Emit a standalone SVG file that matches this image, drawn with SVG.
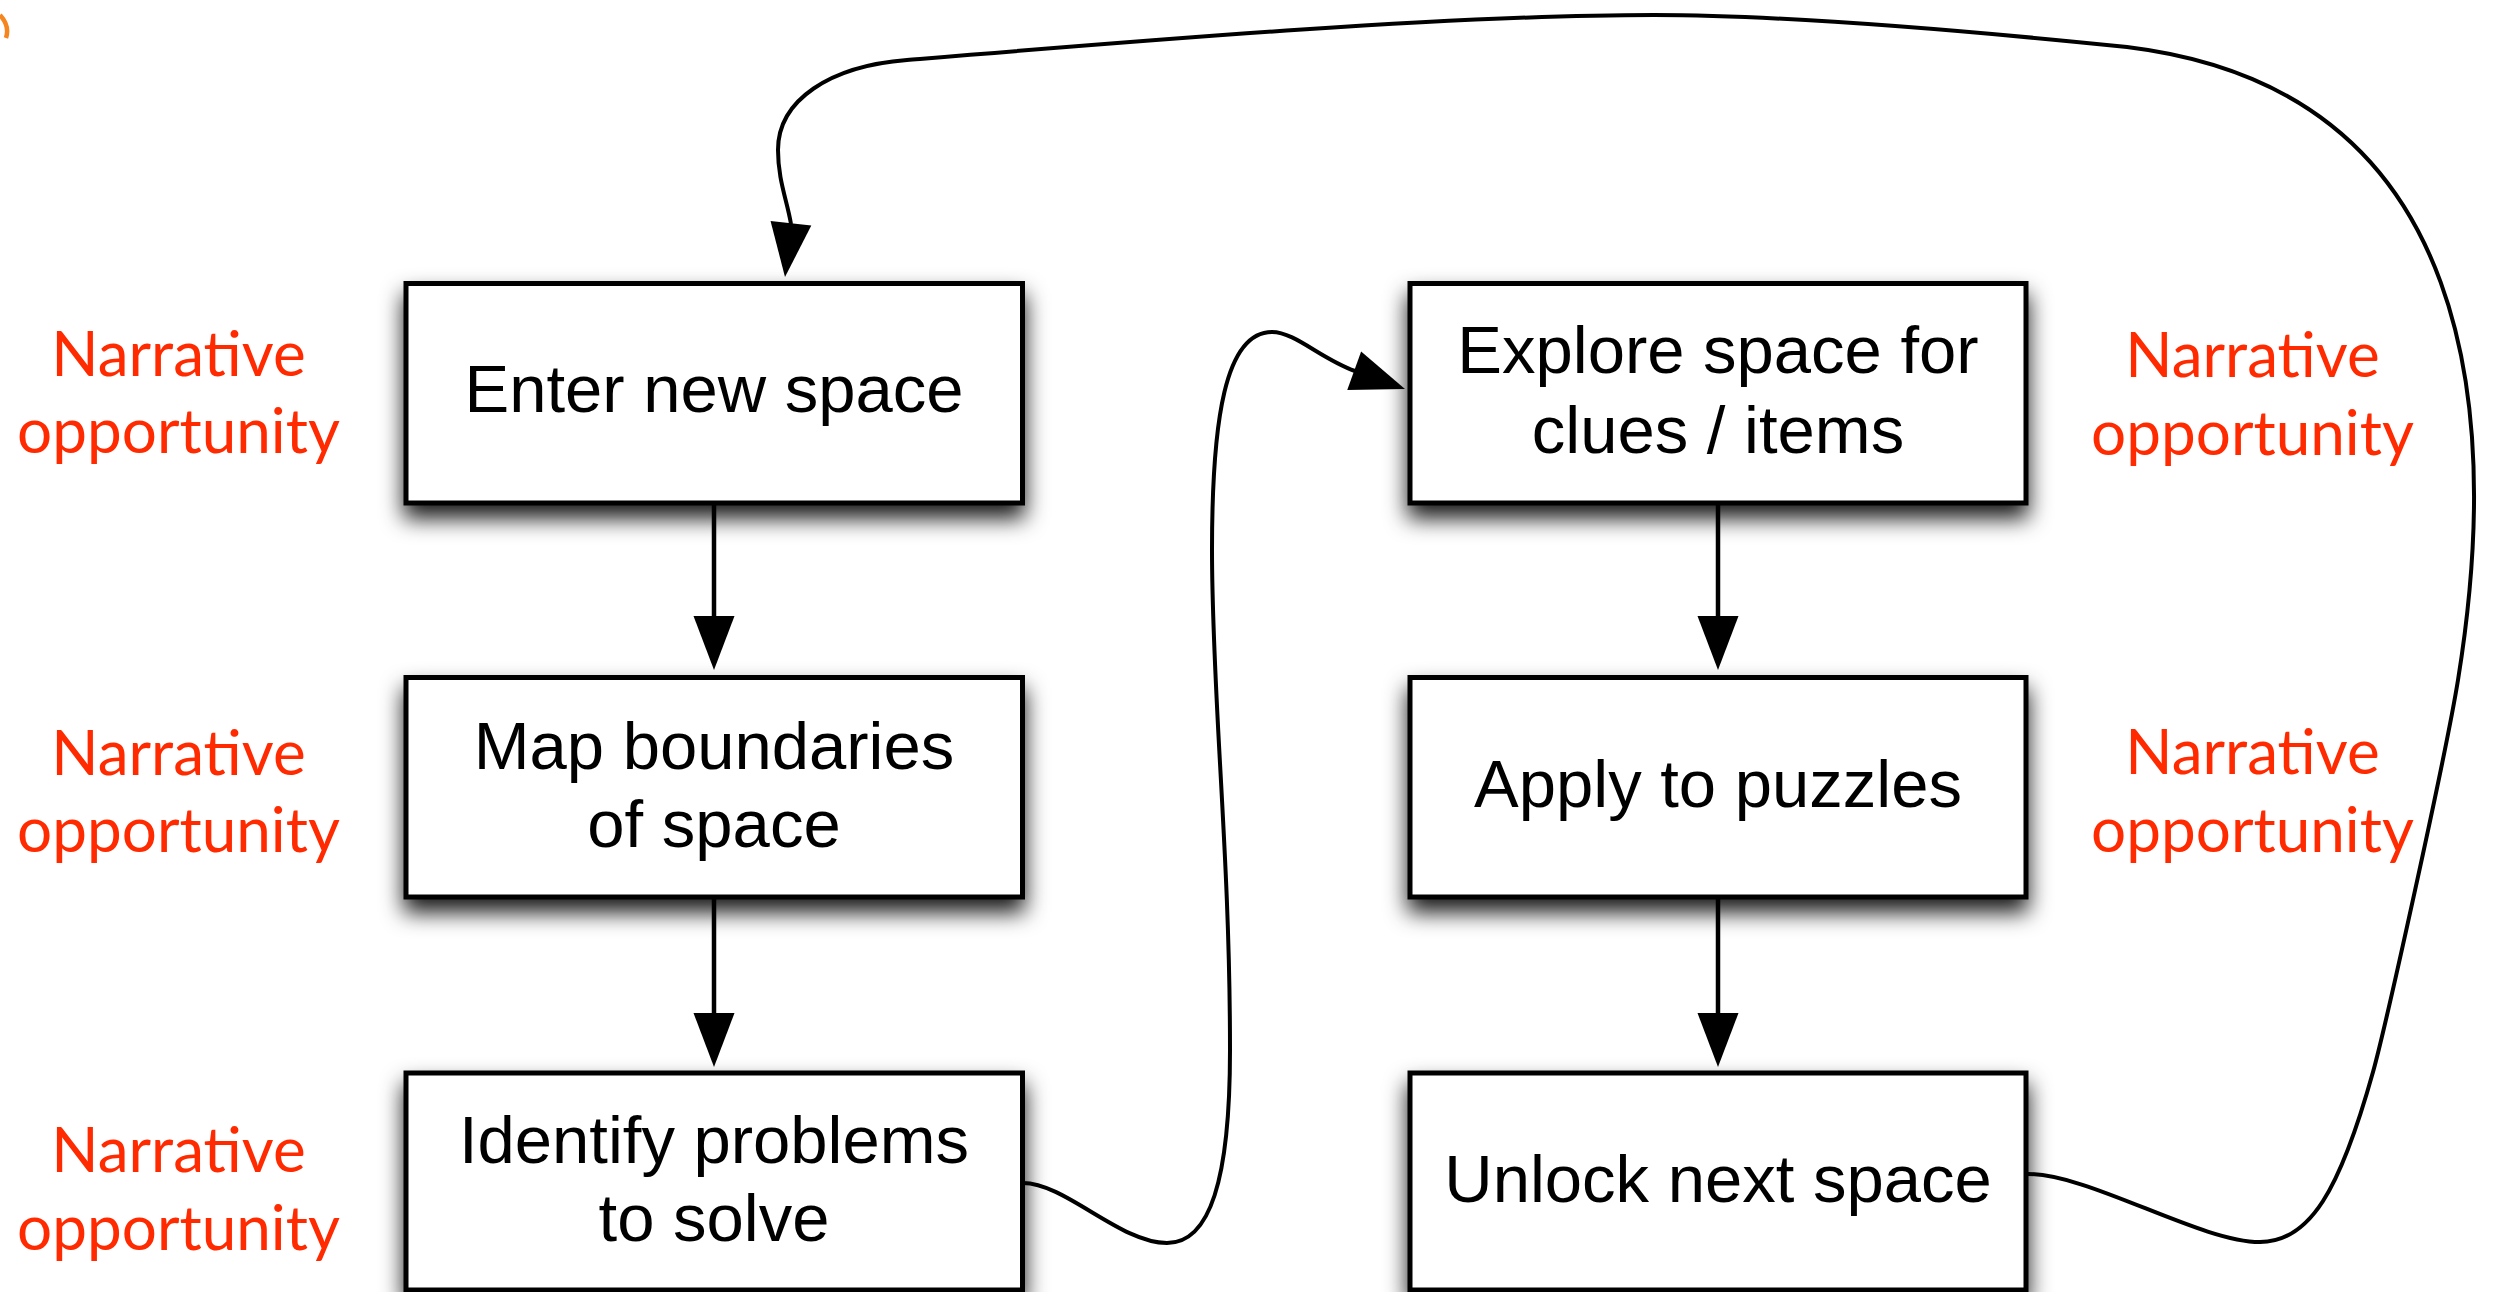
<svg xmlns="http://www.w3.org/2000/svg" width="2493" height="1292" viewBox="0 0 2493 1292">
<defs>
<style>
.box{fill:#fff;stroke:#000;stroke-width:5;filter:url(#shadow)}
.t{font-family:"Liberation Sans",Arial,Helvetica,sans-serif;font-size:67px;fill:#000;text-anchor:middle}
.n{font-family:Lato,"Open Sans",sans-serif;font-size:62px;fill:#ff2a00;text-anchor:middle}
.c{fill:none;stroke:#000;stroke-width:4}
.s{fill:none;stroke:#000;stroke-width:4.5}
</style>
<filter id="shadow" x="-10%" y="-25%" width="120%" height="160%">
<feDropShadow dx="0" dy="13" stdDeviation="11" flood-color="#000" flood-opacity="0.9"/>
</filter>
<path id="ah" d="M0,0 L-54,-20.5 L-54,20.5 Z" fill="#000"/>
</defs>
<rect width="2493" height="1292" fill="#fff"/>
<path d="M0,15 Q10,26 6,38" stroke="#f5861f" stroke-width="4.5" fill="none"/>

<g id="node-enter">
<rect class="box" x="406" y="283.5" width="616.5" height="219.5"/>
<text class="t" x="714" y="412">Enter new space</text>
</g>
<g id="node-map">
<rect class="box" x="406" y="677.5" width="616.5" height="219.5"/>
<text class="t" x="714" y="769">Map boundaries</text>
<text class="t" x="714" y="847">of space</text>
</g>
<g id="node-identify">
<rect class="box" x="406" y="1073" width="616.5" height="217"/>
<text class="t" x="714" y="1163">Identify problems</text>
<text class="t" x="714" y="1241">to solve</text>
</g>
<g id="node-explore">
<rect class="box" x="1410" y="283.5" width="616" height="219.5"/>
<text class="t" x="1718" y="373">Explore space for</text>
<text class="t" x="1718" y="453">clues / items</text>
</g>
<g id="node-apply">
<rect class="box" x="1410" y="677.5" width="616" height="219.5"/>
<text class="t" x="1718" y="807">Apply to puzzles</text>
</g>
<g id="node-unlock">
<rect class="box" x="1410" y="1073" width="616" height="217"/>
<text class="t" x="1718" y="1202">Unlock next space</text>
</g>

<g id="labels">
<g id="label-l1"><text class="n" x="178.5" y="376">Narrative</text><text class="n" x="178.5" y="453">opportunity</text></g>
<g id="label-l2"><text class="n" x="178.5" y="775">Narrative</text><text class="n" x="178.5" y="852">opportunity</text></g>
<g id="label-l3"><text class="n" x="178.5" y="1172">Narrative</text><text class="n" x="178.5" y="1250">opportunity</text></g>
<g id="label-r1"><text class="n" x="2252.5" y="377">Narrative</text><text class="n" x="2252.5" y="455">opportunity</text></g>
<g id="label-r2"><text class="n" x="2252.5" y="774">Narrative</text><text class="n" x="2252.5" y="852">opportunity</text></g>
</g>

<g id="connectors">
<path class="s" d="M714,503 V618"/>
<use href="#ah" transform="translate(714,670) rotate(90)"/>
<path class="s" d="M714,897 V1015"/>
<use href="#ah" transform="translate(714,1067) rotate(90)"/>
<path class="s" d="M1718,503 V618"/>
<use href="#ah" transform="translate(1718,670) rotate(90)"/>
<path class="s" d="M1718,897 V1015"/>
<use href="#ah" transform="translate(1718,1067) rotate(90)"/>
<path class="c" d="M1023,1183 C1065,1183 1120,1243 1167,1243 C1210,1243 1230,1180 1230,1050 C1230,850 1212,700 1212,550 C1212,420 1225,332 1272,332 C1295,332 1321,359 1355,371"/>
<use href="#ah" transform="translate(1405,389) rotate(19.8)"/>
<path class="c" d="M2028,1174 C2090,1174 2200,1242 2260,1242 C2310,1242 2340,1190 2373,1072 C2385,1029 2445,760 2458,680 C2500,420 2480,90 2127,47 C2000,34 1800,15 1654,15 C1450,15 1150,40 907,60 C830,66 778,100 778,150 C778,180 787,200 791,224"/>
<use href="#ah" transform="translate(785,277) rotate(96.3)"/>
</g>
</svg>
